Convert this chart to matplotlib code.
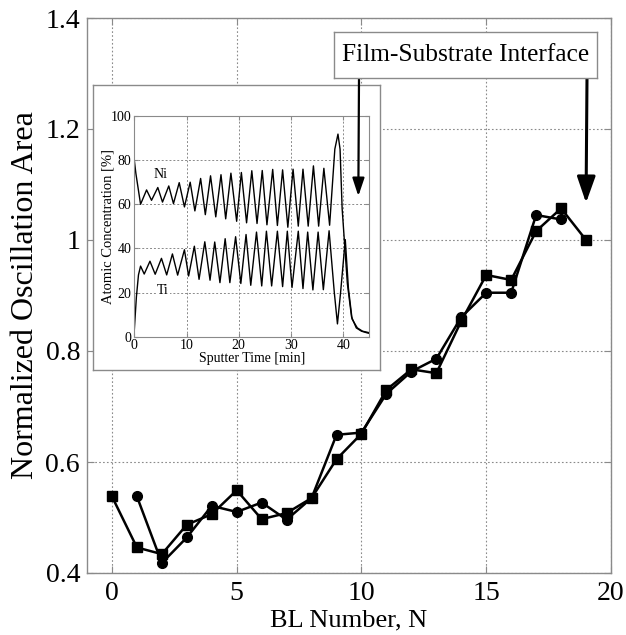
import matplotlib
matplotlib.use("Agg")
import matplotlib.pyplot as plt

plt.rcParams['font.family'] = ['Liberation Serif', 'DejaVu Serif']

# ---------------- data ----------------
bl_sq = [0, 1, 2, 3, 4, 5, 6, 7, 8, 9, 10, 11, 12, 13, 14, 15, 16, 17, 18, 19]
area_sq = [0.538, 0.446, 0.434, 0.487, 0.506, 0.549, 0.497, 0.508, 0.535, 0.605,
           0.651, 0.730, 0.767, 0.760, 0.854, 0.937, 0.928, 1.016, 1.057, 1.000]
bl_ci = [1, 2, 3, 4, 5, 6, 7, 8, 9, 10, 11, 12, 13, 14, 15, 16, 17, 18]
area_ci = [0.538, 0.418, 0.464, 0.521, 0.510, 0.527, 0.496, 0.535, 0.649, 0.653,
           0.723, 0.763, 0.786, 0.861, 0.905, 0.905, 1.045, 1.037]

ni_t = [0.0, 0.3, 1.2, 2.35, 3.3, 4.5, 5.4, 6.6, 7.5, 8.6, 9.6, 10.7, 11.6, 12.7, 13.6,
        14.6, 15.6, 16.6, 17.5, 18.5, 19.6, 20.5, 21.5, 22.5, 23.5, 24.5, 25.4, 26.5,
        27.4, 28.4, 29.4, 30.4, 31.4, 32.3, 33.3, 34.3, 35.3, 36.3, 37.4, 38.4, 39.0,
        39.4, 39.8, 40.8, 41.6, 42.5, 43.5, 44.5, 45.0]
ni_c = [80, 74, 60, 66.5, 61.8, 67.6, 61, 68.3, 60.3, 69.8, 58.8, 70, 57, 71.7, 55.3,
        72.9, 54.3, 73.4, 53.4, 74.1, 52.3, 74.4, 51.6, 75.2, 51.3, 75.3, 50.7, 75.8,
        50.4, 75.6, 49.6, 75.9, 50.1, 75.9, 50.1, 77.4, 50.1, 76.3, 50.5, 85, 91.8,
        85, 58, 24, 9, 4, 2.5, 1.8, 1.5]
ti_t = [0.0, 0.4, 0.8, 1.2, 1.9, 3.0, 4.0, 5.2, 6.2, 7.3, 8.3, 9.6, 10.4, 11.5, 12.4,
        13.5, 14.5, 15.4, 16.4, 17.4, 18.3, 19.4, 20.4, 21.4, 22.3, 23.4, 24.4, 25.3,
        26.3, 27.4, 28.4, 29.3, 30.2, 31.4, 32.3, 33.2, 34.2, 35.2, 36.2, 37.3, 38.3,
        38.9, 39.5, 40.4, 41.0, 41.7, 42.7, 43.7, 45.0]
ti_c = [3, 18, 28, 32, 28.4, 34.2, 28.3, 35.5, 28, 37.5, 27.9, 39.4, 27.5, 41, 26,
        43, 25.6, 42.9, 24.5, 44.4, 24.5, 45.3, 24.1, 46.3, 23.3, 47.4, 23, 47.8,
        23, 47.8, 22.7, 47.8, 22.3, 47.8, 21.8, 47.4, 21.2, 47.4, 21.3, 48, 20,
        5.8, 20, 44, 22, 8, 4, 2.5, 1.8]

main_xticks = [0, 5, 10, 15, 20]
main_yticks = [0.4, 0.6, 0.8, 1.0, 1.2, 1.4]
main_yticklabels = ['0.4', '0.6', '0.8', '1', '1.2', '1.4']
inset_xticks = [0, 10, 20, 30, 40]
inset_yticks = [0, 20, 40, 60, 80, 100]

# ---------------- layout helpers ----------------
W, H = 626, 635
def rect(x0, y0, x1, y1):
    return [x0 / W, 1 - y1 / H, (x1 - x0) / W, (y1 - y0) / H]
def fpt(x, y):
    return (x / W, 1 - y / H)

GRAY = '#8a8a8a'
fig = plt.figure(figsize=(W / 100, H / 100), dpi=100)

# ---------------- main axes ----------------
ax = fig.add_axes(rect(87, 18, 611, 573))
ax.plot(bl_sq, area_sq, '-s', color='k', lw=1.8, ms=7.5, zorder=3)
ax.plot(bl_ci, area_ci, '-o', color='k', lw=1.8, ms=7, zorder=3)
ax.set_xlim(-1, 20)
ax.set_ylim(0.4, 1.4)
ax.set_xticks(main_xticks)
ax.set_yticks(main_yticks)
ax.set_yticklabels(main_yticklabels)
ax.grid(True, linestyle=(0, (1.5, 2)), color=GRAY, lw=0.8)
ax.tick_params(direction='in', length=5, color=GRAY, labelsize=20, top=True, right=True)
ax.tick_params(axis='y', pad=5)
ax.tick_params(axis='x', pad=6)
for s in ax.spines.values():
    s.set_color(GRAY)
    s.set_linewidth(1.0)
ax.set_xlabel('BL Number, N', fontsize=19, labelpad=2)
ax.set_ylabel('Normalized Oscillation Area', fontsize=23, labelpad=4)

# ---------------- inset frame ----------------
axf = fig.add_axes(rect(93, 85, 380, 370))
axf.set_xticks([]); axf.set_yticks([])
axf.set_facecolor('white')
for s in axf.spines.values():
    s.set_color(GRAY)
    s.set_linewidth(1.0)

# ---------------- inset axes ----------------
axi = fig.add_axes(rect(134.3, 116, 369.3, 336.7))
axi.plot(ni_t, ni_c, color='k', lw=1.0)
axi.plot(ti_t, ti_c, color='k', lw=1.0)
axi.set_xlim(0, 45)
axi.set_ylim(0, 100)
axi.set_xticks(inset_xticks)
axi.set_yticks(inset_yticks)
axi.grid(True, linestyle=(0, (2, 2)), color=GRAY, lw=0.7)
axi.tick_params(direction='in', length=3, color=GRAY, labelsize=10, top=True, right=True, pad=2)
for s in axi.spines.values():
    s.set_color(GRAY)
    s.set_linewidth(0.8)
axi.set_xlabel('Sputter Time [min]', fontsize=10, labelpad=0)
axi.set_ylabel('Atomic Concentration [%]', fontsize=10.5, labelpad=-3)
axi.text(5.0, 73.5, 'Ni', fontsize=10, ha='center', va='center',
         bbox=dict(facecolor='white', edgecolor='none', pad=0.5))
axi.text(5.5, 21, 'Ti', fontsize=10, ha='center', va='center',
         bbox=dict(facecolor='white', edgecolor='none', pad=0.5))

# ---------------- arrows ----------------
axi.annotate('', xy=(42.9, 63.7), xycoords='data',
             xytext=fpt(359, 78), textcoords='figure fraction',
             arrowprops=dict(arrowstyle='-|>,head_length=0.9,head_width=0.3',
                             mutation_scale=12, lw=1.6, color='k',
                             shrinkA=0, shrinkB=0))
ax.annotate('', xy=(19.0, 1.067), xycoords='data',
            xytext=fpt(587, 78), textcoords='figure fraction',
            arrowprops=dict(arrowstyle='-|>,head_length=0.8,head_width=0.28',
                            mutation_scale=20, lw=2.2, color='k',
                            shrinkA=0, shrinkB=0))

# ---------------- annotation box ----------------
axb = fig.add_axes(rect(334, 32, 597, 78))
axb.set_xticks([]); axb.set_yticks([])
axb.set_facecolor('white')
for s in axb.spines.values():
    s.set_color(GRAY)
    s.set_linewidth(1.0)
axb.text(0.5, 0.5, 'Film-Substrate Interface', fontsize=18.3,
         ha='center', va='center', transform=axb.transAxes)

fig.savefig('out.png', dpi=100)
